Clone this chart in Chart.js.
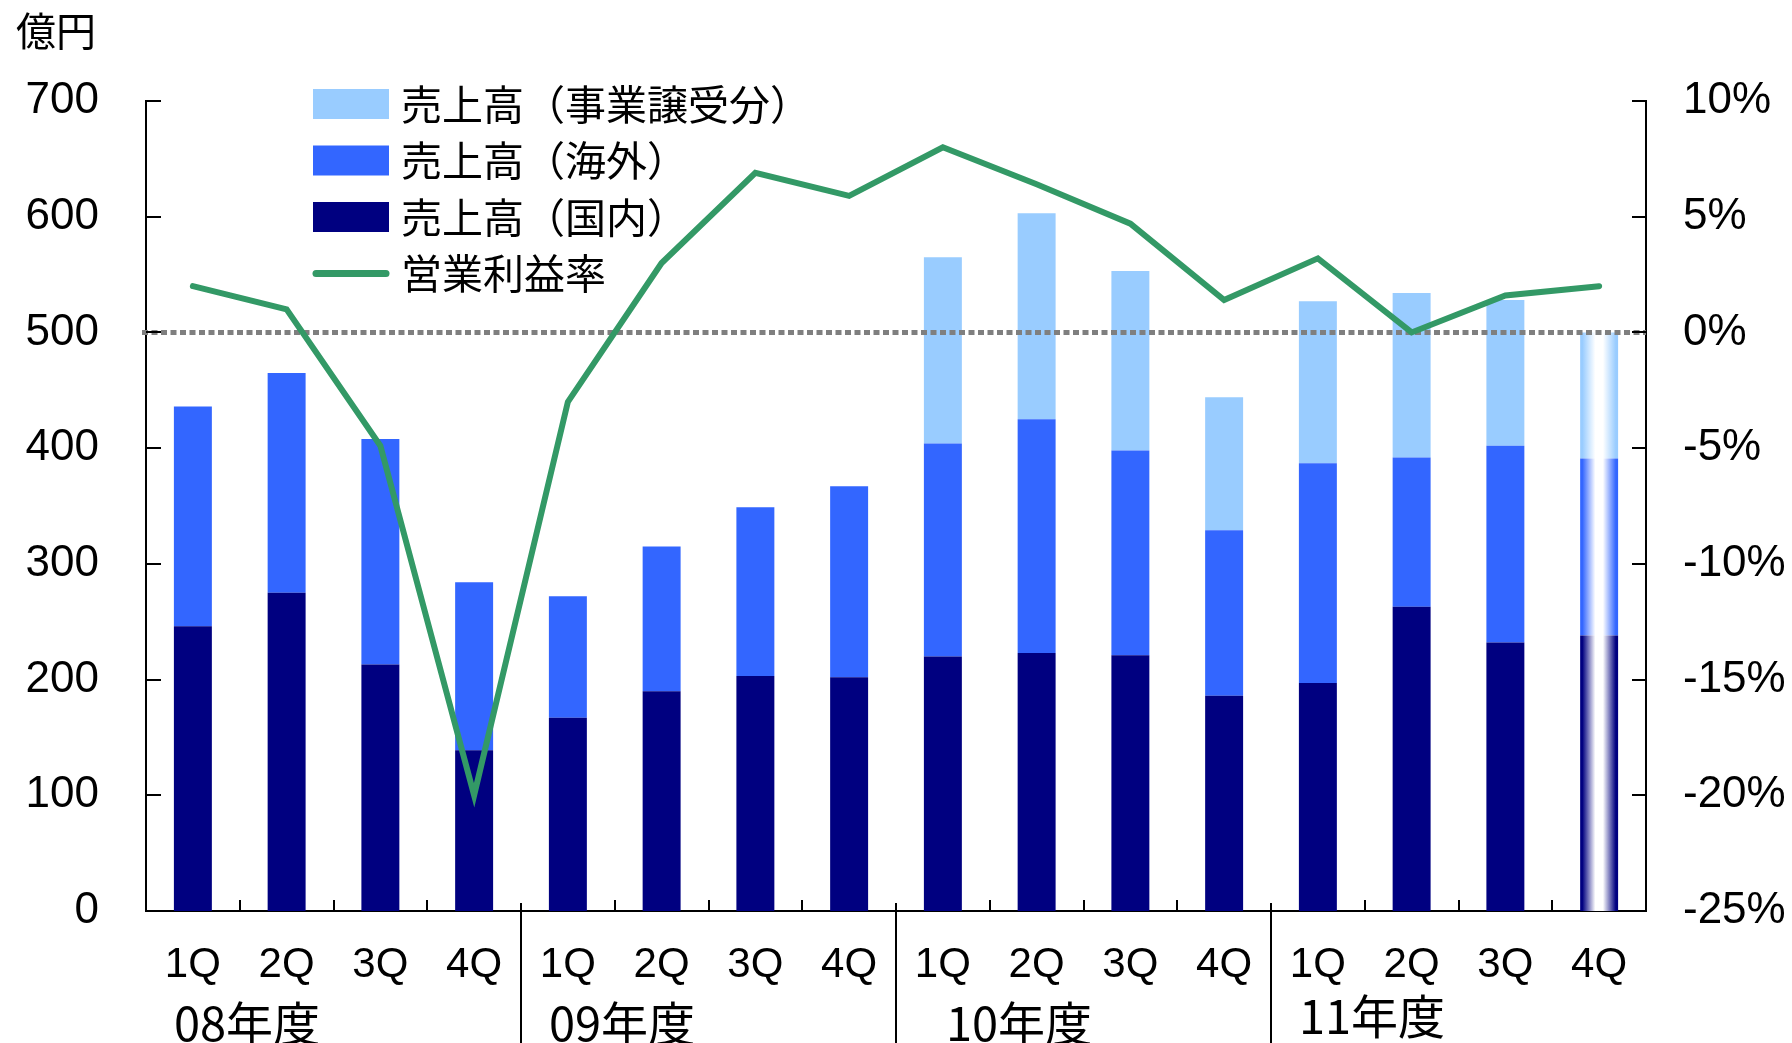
<!DOCTYPE html>
<html lang="ja">
<head>
<meta charset="utf-8">
<title>売上高と営業利益率</title>
<script src="https://cdn.jsdelivr.net/npm/chart.js@4/dist/chart.umd.min.js"></script>
<style>
  html, body { margin: 0; padding: 0; background: #fff; }
  #wrap { position: relative; width: 1792px; height: 1043px; }
</style>
</head>
<body>
<div id="wrap"><canvas id="salesChart"></canvas></div>
<script>
// quarters and fiscal years
const categories = ['1Q', '2Q', '3Q', '4Q', '1Q', '2Q', '3Q', '4Q',
                    '1Q', '2Q', '3Q', '4Q', '1Q', '2Q', '3Q', '4Q'];
const fiscalYears = ['08年度', '09年度', '10年度', '11年度'];

// sales, 億円
const salesDomestic = [246, 275, 213, 139, 167, 190, 203, 202, 220, 223, 221, 186, 197, 263, 232, 238];
const salesOverseas = [190, 190, 195, 145, 105, 125, 146, 165, 184, 202, 177, 143, 190, 129, 170, 153];
const salesAcquired = [null, null, null, null, null, null, null, null, 161, 178, 155, 115, 140, 142, 126, 109];

// operating margin, %
const opMargin = [2.0, 1.0, -4.9, -20.0, -3.0, 3.0, 6.9, 5.9, 8.0, 6.4, 4.7, 1.4, 3.2, 0.0, 1.6, 2.0];

// last quarter is a forecast (drawn with a faded fill)
const isForecast = [false, false, false, false, false, false, false, false,
                    false, false, false, false, false, false, false, true];

const yTicks = [0, 100, 200, 300, 400, 500, 600, 700];
const y1Ticks = [-25, -20, -15, -10, -5, 0, 5, 10];

const LATIN = '"Liberation Sans", Arial, sans-serif';
const JP = '"Noto Sans CJK JP", sans-serif';
const BAR_PCT = 0.405;

const barFill = (color) => (ctx) => {
    if (!isForecast[ctx.dataIndex]) return color;
    const chart = ctx.chart;
    const xs = chart.scales.x;
    if (!xs || !chart.chartArea) return color;
    const w = xs.width / categories.length * BAR_PCT;
    const cx = xs.getPixelForValue(ctx.dataIndex);
    const g = chart.ctx.createLinearGradient(cx - w / 2, 0, cx + w / 2, 0);
    g.addColorStop(0, color);
    g.addColorStop(0.06, color);
    g.addColorStop(0.4, '#ffffff');
    g.addColorStop(0.6, '#ffffff');
    g.addColorStop(0.94, color);
    g.addColorStop(1, color);
    return g;
};

// extra drawing: inward ticks, zero line, legend, unit and year labels
const decorations = {
    id: 'decorations',
    beforeDatasetDraw(chart, args) {
        if (args.meta.type !== 'line') return;
        const {ctx, chartArea} = chart;
        const y0 = chart.scales.y1.getPixelForValue(0);
        ctx.save();
        ctx.strokeStyle = '#7f7f7f';
        ctx.lineWidth = 5;
        ctx.setLineDash([6, 3.5]);
        ctx.beginPath();
        ctx.moveTo(chartArea.left - 4, y0);
        ctx.lineTo(chartArea.right, y0);
        ctx.stroke();
        ctx.restore();
    },
    afterDraw(chart) {
        const {ctx, chartArea} = chart;
        const xs = chart.scales.x, ys = chart.scales.y, ys1 = chart.scales.y1;
        const cw = xs.width / categories.length;
        ctx.save();
        ctx.strokeStyle = '#000';
        ctx.lineWidth = 2;
        ctx.beginPath();
        yTicks.forEach(v => {
            const p = Math.round(ys.getPixelForValue(v));
            ctx.moveTo(chartArea.left, p);
            ctx.lineTo(chartArea.left + 15, p);
        });
        y1Ticks.forEach(v => {
            const p = Math.round(ys1.getPixelForValue(v));
            ctx.moveTo(chartArea.right, p);
            ctx.lineTo(chartArea.right - 14, p);
        });
        for (let i = 1; i < categories.length; i++) {
            const p = Math.round(xs.getPixelForValue(i) - cw / 2);
            if (i % 4 === 0) {
                ctx.moveTo(p, chartArea.bottom - 8);
                ctx.lineTo(p, chart.height);
            } else {
                ctx.moveTo(p, chartArea.bottom);
                ctx.lineTo(p, chartArea.bottom - 11);
            }
        }
        ctx.stroke();

        // unit
        ctx.fillStyle = '#000';
        ctx.textBaseline = 'middle';
        ctx.textAlign = 'left';
        ctx.font = '40px ' + JP;
        ctx.fillText('億円', 16, 31);

        // fiscal years
        const nudge = [[0, 0], [0, 0], [22, 0], [0, -7]];
        ctx.font = '47px ' + JP;
        fiscalYears.forEach((fy, k) => {
            const left = xs.getPixelForValue(k * 4) - cw * BAR_PCT / 2;
            ctx.fillText(fy, left + nudge[k][0], 1023 + nudge[k][1]);
        });

        // legend
        const order = [2, 1, 0, 3];
        const lx = chartArea.left + 167, rowH = 56.5;
        ctx.font = '41px ' + JP;
        order.forEach((di, r) => {
            const ds = chart.data.datasets[di];
            const cy = chartArea.top + 3 + r * rowH;
            if (ds.type === 'line') {
                ctx.strokeStyle = ds.borderColor;
                ctx.lineWidth = 7;
                ctx.lineCap = 'round';
                ctx.beginPath();
                ctx.moveTo(lx + 3, cy);
                ctx.lineTo(lx + 73, cy);
                ctx.stroke();
            } else {
                ctx.fillStyle = ds.swatch;
                ctx.fillRect(lx, cy - 15, 76, 30);
            }
            ctx.fillStyle = '#000';
            ctx.fillText(ds.label, lx + 88, cy);
        });
        ctx.restore();
    }
};

const ctx = document.getElementById('salesChart').getContext('2d');
new Chart(ctx, {
    type: 'bar',
    data: {
        labels: categories,
        datasets: [
            {
                label: '売上高（国内）',
                data: salesDomestic,
                swatch: '#000080',
                backgroundColor: barFill('#000080'),
                order: 1,
            },
            {
                label: '売上高（海外）',
                data: salesOverseas,
                swatch: '#3366ff',
                backgroundColor: barFill('#3366ff'),
                order: 1,
            },
            {
                label: '売上高（事業譲受分）',
                data: salesAcquired,
                swatch: '#99ccff',
                backgroundColor: barFill('#99ccff'),
                order: 1,
            },
            {
                type: 'line',
                label: '営業利益率',
                data: opMargin,
                yAxisID: 'y1',
                borderColor: '#339966',
                borderWidth: 6,
                pointRadius: 0,
                tension: 0,
                borderCapStyle: 'round',
                order: 0,
            },
        ],
    },
    options: {
        responsive: true,
        maintainAspectRatio: false,
        animation: false,
        categoryPercentage: 1,
        barPercentage: BAR_PCT,
        layout: { padding: { top: 101, left: 0, right: 0, bottom: 0 } },
        plugins: {
            legend: { display: false },
            tooltip: { enabled: false },
        },
        scales: {
            x: {
                stacked: true,
                grid: { display: false, drawTicks: false },
                border: { display: true, color: '#000', width: 2 },
                ticks: {
                    color: '#000',
                    font: { size: 42, family: LATIN },
                    padding: 29,
                    maxRotation: 0,
                    autoSkip: false,
                },
                afterFit: (s) => { s.height = 132; },
            },
            y: {
                stacked: true,
                min: 0,
                max: 700,
                grid: { display: false, drawTicks: false },
                border: { display: true, color: '#000', width: 2 },
                ticks: {
                    stepSize: 100,
                    color: '#000',
                    font: { size: 44, family: LATIN },
                    padding: 47,
                },
                afterFit: (s) => { s.width = 146; },
            },
            y1: {
                position: 'right',
                min: -25,
                max: 10,
                grid: { display: false, drawTicks: false },
                border: { display: true, color: '#000', width: 2 },
                ticks: {
                    stepSize: 5,
                    color: '#000',
                    font: { size: 44, family: LATIN },
                    padding: 37,
                    callback: (v) => v + '%',
                },
                afterFit: (s) => { s.width = 146; },
            },
        },
    },
    plugins: [decorations],
});
</script>
</body>
</html>
